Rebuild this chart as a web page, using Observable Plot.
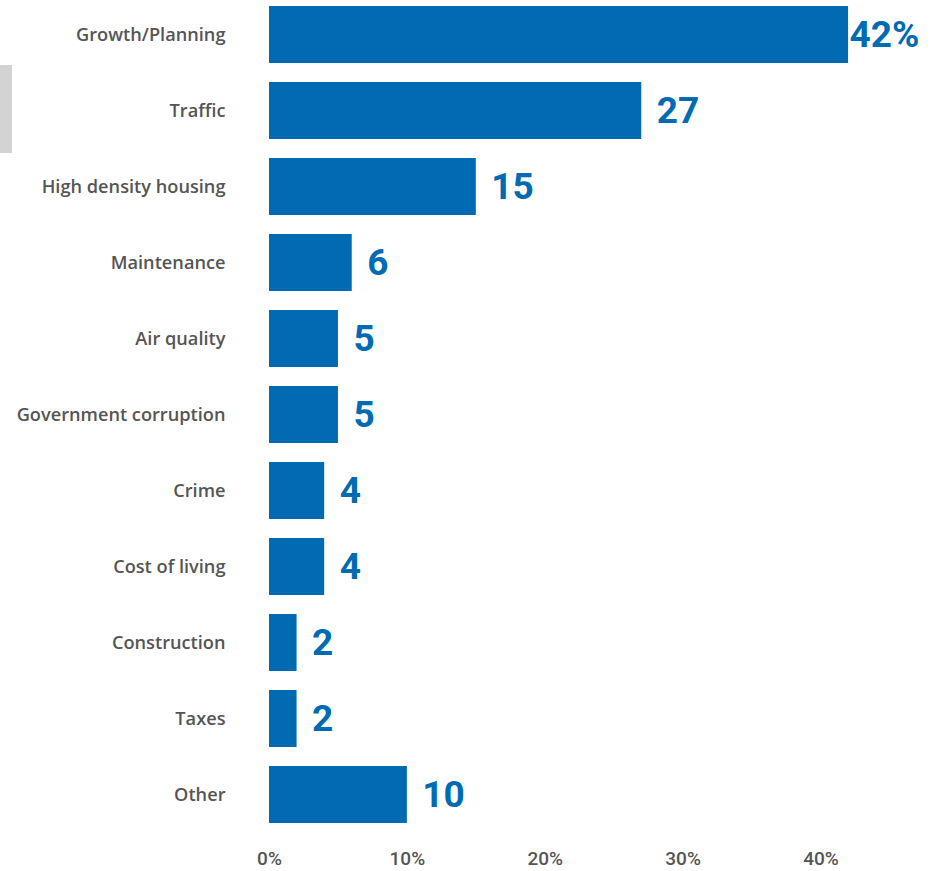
<!DOCTYPE html>
<html><head><meta charset="utf-8">
<script src="https://cdn.jsdelivr.net/npm/d3@7"></script>
<script src="https://cdn.jsdelivr.net/npm/@observablehq/plot@0.6"></script>
<style>
body{margin:0;background:#fff;}
#wrap{position:relative;width:936px;height:871px;}
#gray{position:absolute;left:0;top:65px;width:12px;height:88px;background:#d3d3d3;}
svg{font-family:Roboto, "Noto Sans", sans-serif;}
</style></head>
<body><div id="wrap"><div id="gray"></div></div>
<script>
const categories = ["Growth/Planning","Traffic","High density housing","Maintenance","Air quality","Government corruption","Crime","Cost of living","Construction","Taxes","Other"];
const values = [42,27,15,6,5,5,4,4,2,2,10];
const tickValues = [0,10,20,30,40];
const data = categories.map((c,i)=>({category:c, value:values[i], label: i===0 ? values[i]+"%" : String(values[i])}));
const blue = "#006bb3";
const chart = Plot.plot({
  width:936, height:871,
  marginLeft:269, marginRight:19, marginTop:5, marginBottom:47,
  style:{background:"transparent", overflow:"visible"},
  x:{domain:[0,47]},
  y:{domain:categories, paddingInner:0.25, paddingOuter:0, align:0.5},
  marks:[
    Plot.barX(data,{y:"category", x:"value", fill:blue}),
    Plot.text(data.filter((d,i)=>i===0),{y:"category", x:"value", text:"label", textAnchor:"start", dx:1, fill:blue, fontSize:37, fontWeight:700}),
    Plot.text(data.filter((d,i)=>i>0),{y:"category", x:"value", text:"label", textAnchor:"start", dx:15, fill:blue, fontSize:37, fontWeight:700}),
    Plot.axisY({tickSize:0, tickPadding:44, fontSize:18.2, fontWeight:600, fontFamily:"'Open Sans', sans-serif", fill:"#555", label:null}),
    Plot.axisX({ticks:tickValues, tickFormat:d=>d+"%", tickSize:0, tickPadding:27, fontSize:19, fontWeight:500, fill:"#555", label:null})
  ]
});
document.getElementById("wrap").appendChild(chart);
</script>
</body></html>
